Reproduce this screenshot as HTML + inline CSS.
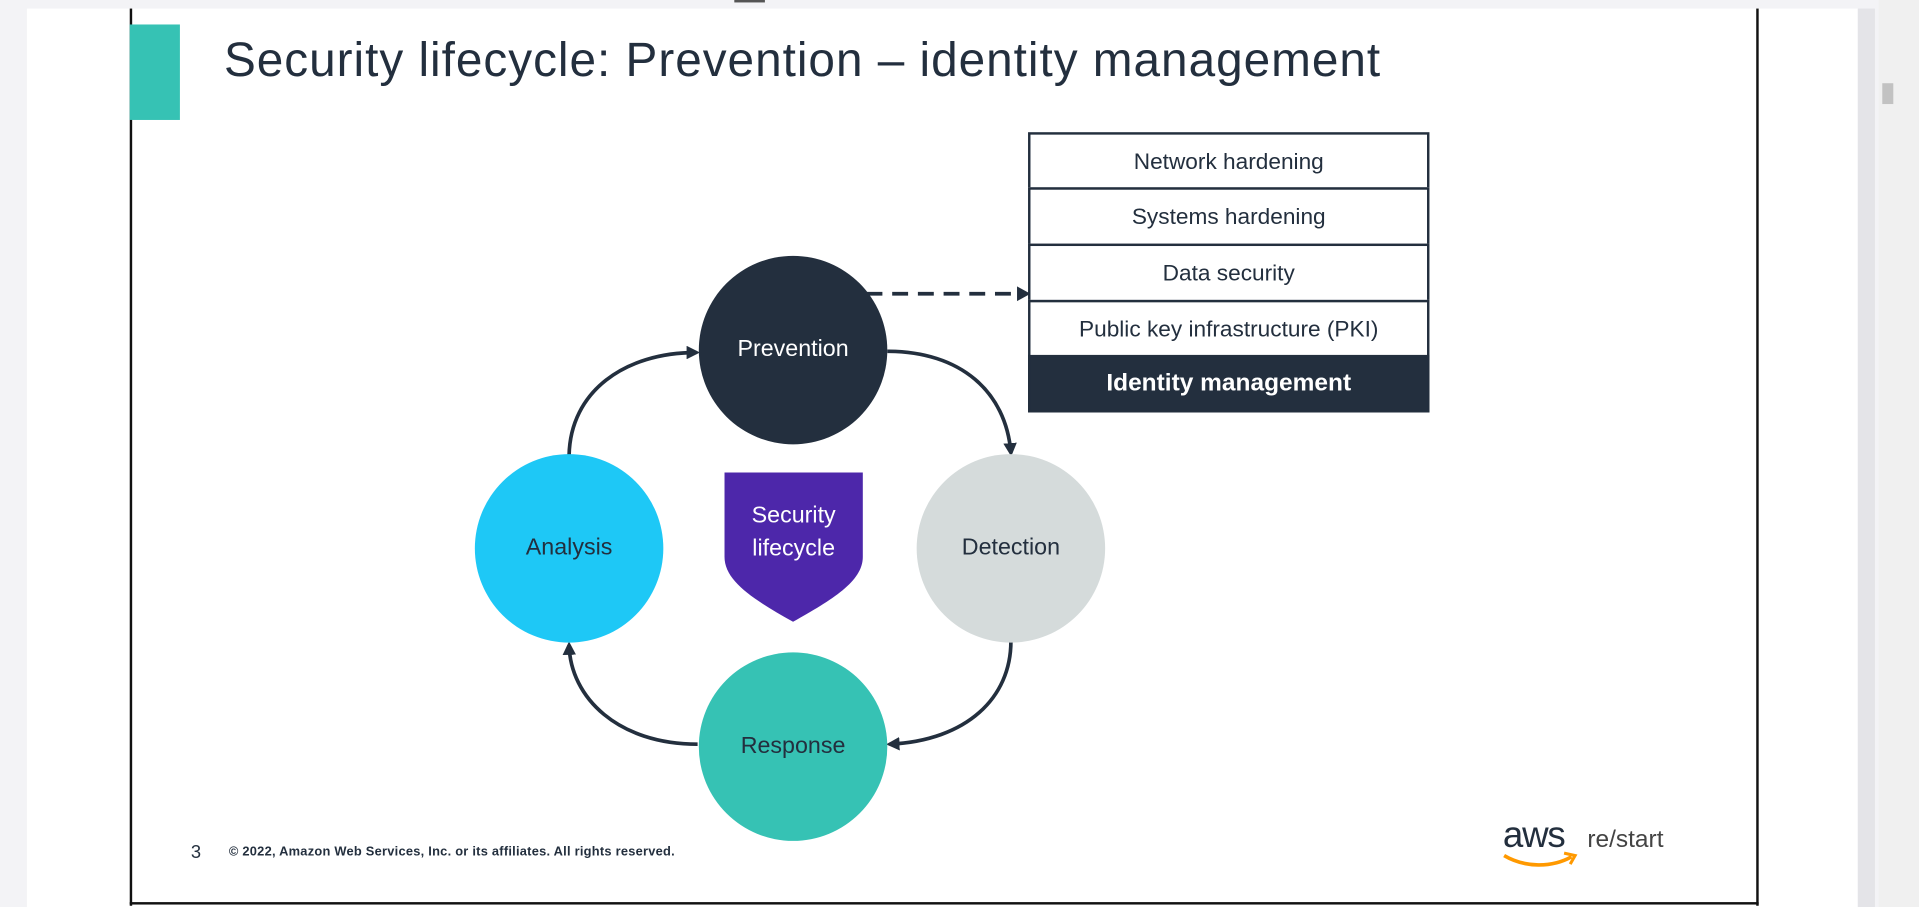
<!DOCTYPE html>
<html><head><style>
html,body{margin:0;padding:0;width:1919px;height:907px;overflow:hidden;background:#f3f3f6;}
#s{position:absolute;left:0;top:0;width:1568px;height:741px;transform:scale(1.22385,1.22402);transform-origin:0 0;font-family:"Liberation Sans",sans-serif;color:#232f3e;}
.a{position:absolute;}
.row{position:absolute;left:840px;width:328px;box-sizing:border-box;border:2px solid #232f3e;display:flex;align-items:center;justify-content:center;font-size:18.5px;background:#fff;}
.c{position:absolute;width:154px;height:154px;border-radius:50%;display:flex;align-items:center;justify-content:center;font-size:19px;}
</style></head><body><div id="s">
<div class="a" style="left:22px;top:7px;width:1496px;height:734px;background:#fff;"></div>
<div class="a" style="left:106px;top:7px;width:2px;height:733px;background:#111;"></div>
<div class="a" style="left:1435px;top:7px;width:2px;height:733px;background:#111;"></div>
<div class="a" style="left:106px;top:737px;width:1331px;height:2px;background:#111;"></div>
<div class="a" style="left:1518px;top:7px;width:14px;height:734px;background:#e4e4e8;"></div>
<div class="a" style="left:1535px;top:0;width:33px;height:741px;background:#f0f0f0;"></div>
<div class="a" style="left:1538px;top:68px;width:9px;height:17px;background:#c2c2c2;"></div>
<div class="a" style="left:600px;top:0;width:25px;height:2px;background:#555;"></div>
<div class="a" style="left:106px;top:20px;width:41px;height:78px;background:#36c2b4;"></div>
<div class="a" style="left:183px;top:28px;font-size:39px;letter-spacing:0.8px;white-space:nowrap;">Security lifecycle: Prevention – identity management</div>
<div class="row" style="top:108px;height:47px;">Network hardening</div>
<div class="row" style="top:153px;height:48px;">Systems hardening</div>
<div class="row" style="top:199px;height:48px;">Data security</div>
<div class="row" style="top:245px;height:47px;">Public key infrastructure (PKI)</div>
<div class="row" style="top:290px;height:47px;background:#232f3e;color:#fff;font-weight:bold;font-size:20px;">Identity management</div>
<svg class="a" style="left:0;top:0" width="1568" height="741">
<defs><marker id="m" markerWidth="11" markerHeight="11" refX="8" refY="5.5" orient="auto" markerUnits="userSpaceOnUse"><path d="M0,0 L11,5.5 L0,11 z" fill="#232f3e"/></marker></defs>
<g fill="none" stroke="#232f3e" stroke-width="3">
<path d="M725,287 C785,287 822,320 826,370" marker-end="url(#m)"/>
<path d="M826,524 C826,570 790,605 727,608" marker-end="url(#m)"/>
<path d="M570,608 C505,608 466,570 465,527" marker-end="url(#m)"/>
<path d="M465,372 C466,320 510,288 569,288" marker-end="url(#m)"/>
<path d="M708,240 L834,240" stroke-dasharray="13,8"/>
</g>
<path d="M831,234 L842,240 L831,246 z" fill="#232f3e"/>
<path d="M592,386 L705,386 L705,455 C705,475 680,490 648,508 C616,490 592,475 592,455 z" fill="#4d27aa"/>
</svg>
<div class="c" style="left:571px;top:209px;background:#232f3e;color:#fff;">Prevention</div>
<div class="c" style="left:749px;top:371px;background:#d5dbdb;">Detection</div>
<div class="c" style="left:571px;top:533px;background:#36c2b4;">Response</div>
<div class="c" style="left:388px;top:371px;background:#1ec8f6;">Analysis</div>
<div class="a" style="left:592px;top:408px;width:113px;text-align:center;color:#fff;font-size:19px;line-height:27px;">Security<br>lifecycle</div>
<div class="a" style="left:156px;top:688px;font-size:15px;">3</div>
<div class="a" style="left:187px;top:690px;font-size:10.5px;letter-spacing:0.2px;font-weight:bold;white-space:nowrap;">© 2022, Amazon Web Services, Inc. or its affiliates. All rights reserved.</div>
<div class="a" style="left:1228px;top:666px;font-size:30px;letter-spacing:-1px;">aws</div>
<svg class="a" style="left:1226px;top:694px" width="66" height="20"><path d="M3,5 C20,15 42,15 58,6" fill="none" stroke="#ff9900" stroke-width="3"/><path d="M52,3 L61,5 L57,12" fill="none" stroke="#ff9900" stroke-width="2.5"/></svg>
<div class="a" style="left:1297px;top:675px;font-size:20px;color:#444;">re/start</div>
</div></body></html>
